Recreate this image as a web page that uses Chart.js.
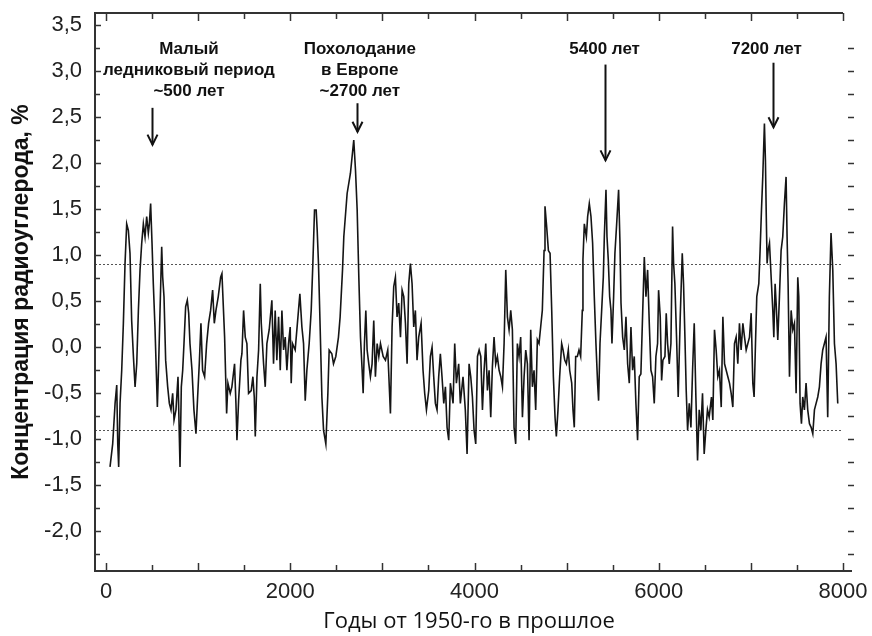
<!DOCTYPE html>
<html><head><meta charset="utf-8">
<script src="https://cdn.jsdelivr.net/npm/chart.js@4.4.0/dist/chart.umd.min.js"></script>
<style>html,body{margin:0;padding:0;background:#fff;}#wrap{width:872px;height:636px;}</style>
</head><body><div id="wrap"><canvas id="c" width="872" height="636"></canvas></div>
<script>
const years = [43,72,98,116,127,137,152,170,188,206,224,242,260,278,297,315,333,351,369,387,405,423,441,459,470,484,499,513,531,557,571,586,604,615,629,647,669,687,705,723,738,759,781,803,817,832,846,864,882,897,911,933,954,976,994,1012,1030,1048,1070,1092,1113,1135,1157,1175,1193,1218,1244,
1258,1287,1309,1323,1348,1366,1395,1410,1421,1439,1464,1475,1493,1511,1529,1547,1576,1594,1609,1620,1638,1656,1674,1685,1710,1728,1746,1771,1800,1818,1836,1854,1873,1891,1909,1927,1945,1963,1981,1999,2010,2024,2053,2089,2104,2126,2144,2162,2180,2205,2227,2245,2263,2281,2292,2306,2324,2343,2361,2386,2408,2422,2451,2469,2494,2523,2541,2567,
2581,2617,2653,2689,2708,2726,2744,2762,2780,2791,2805,2820,2834,2852,2870,2888,2906,2924,2943,2961,2979,3008,3033,3058,3087,3105,3123,3141,3159,3177,3196,3214,3232,3250,3268,3286,3304,3322,3340,3358,3376,3394,3420,3441,3459,3478,3503,3521,3539,3557,3575,3593,3611,3629,3647,3666,3684,3702,3720,3738,3767,3785,3803,3828,3846,3875,3900,3919,
3941,3959,3977,3995,4013,4032,4050,4068,4086,4104,4122,4140,4158,4176,4194,4212,4230,4248,4267,4285,4303,4321,4339,4357,4375,4393,4411,4429,4447,4465,4483,4501,4520,4538,4556,4574,4592,4610,4628,4646,4664,4682,4700,4718,4736,4755,4765,4783,4802,4820,4838,4856,4874,4888,4906,4924,4946,4961,4979,4997,5018,5033,5055,5069,5083,5098,5116,5134,5152,5170,5177,5192,5214,5228,
5246,5264,5282,5300,5318,5336,5347,5362,5380,5398,5409,5427,5438,5452,5467,5481,5492,5510,5524,5543,5564,5579,5590,5608,5626,5644,5662,5680,5698,5716,5734,5752,5770,5788,5806,5824,5843,5861,5879,5897,5915,5933,5951,5969,5987,5998,6016,6031,6045,6067,6081,6096,6114,6132,6150,6161,6175,6193,6211,6233,6255,6269,6284,6298,6313,6331,6349,6367,6385,6403,6421,6439,6457,6475,6493,6511,6529,6547,6572,
6587,6605,6623,6641,6659,6678,6696,6714,6732,6750,6768,6786,6804,6822,6840,6858,6876,6894,6913,6931,6949,6967,6985,7003,7021,7035,7050,7064,7086,7100,7115,7129,7147,7158,7166,7176,7187,7202,7220,7238,7249,7263,7274,7292,7310,7328,7346,7364,7382,7393,7404,7419,7437,7455,7473,7491,7509,7520,7534,7549,7563,7581,7599,7617,7636,7654,7672,7690,7708,7726,7744,7762,7780,7798,7816,7834,7852,7870,7889,7907,7925,7943];
const radiocarbon = [-1.30,-1.05,-0.61,-0.41,-1.05,-1.30,-0.61,-0.25,0.26,0.91,1.34,1.27,1.02,0.29,-0.10,-0.43,-0.18,0.40,0.84,1.13,1.34,1.20,1.42,1.24,1.34,1.56,1.13,0.69,0.22,-0.65,-0.18,0.40,1.09,0.76,0.55,-0.14,-0.43,-0.61,-0.68,-0.50,-0.79,-0.68,-0.32,-1.30,-0.43,-0.25,0.04,0.44,0.51,0.37,0.04,-0.25,-0.68,-0.94,-0.54,-0.18,0.26,-0.25,-0.32,0.04,0.26,0.40,0.62,0.26,0.40,0.55,0.76,
0.80,0.11,-0.72,-0.39,-0.50,-0.43,-0.18,-0.61,-1.01,-0.58,-0.14,-0.07,0.40,0.11,0.04,-0.50,-0.47,-0.32,-0.54,-0.97,-0.32,-0.03,0.69,0.26,-0.18,-0.43,0.04,0.19,0.51,-0.18,0.40,-0.14,0.33,-0.25,0.40,-0.03,0.11,-0.25,0.04,0.22,-0.39,0.04,-0.03,0.40,0.58,0.22,0.04,-0.58,-0.25,0.04,0.40,0.91,1.49,1.49,1.27,0.91,0.22,-0.54,-0.90,-1.05,-0.50,-0.03,-0.07,-0.18,-0.10,0.11,0.33,0.84,
1.20,1.67,1.89,2.25,1.92,1.49,0.76,0.11,-0.25,-0.50,0.04,0.40,-0.03,-0.18,-0.32,-0.18,0.29,-0.32,0.04,-0.10,0.04,-0.10,-0.14,-0.03,-0.72,0.22,0.66,0.76,0.33,0.48,0.11,0.62,0.55,0.26,-0.18,0.69,0.91,0.69,0.22,0.40,-0.14,0.11,0.26,-0.25,-0.50,-0.68,-0.47,-0.10,0.00,-0.32,-0.61,-0.68,-0.32,-0.07,-0.32,-0.61,-0.43,-0.87,-1.01,-0.39,-0.61,0.04,-0.39,-0.18,-0.61,-0.32,-0.68,-1.16,
-0.18,-0.32,-0.54,-0.90,-1.05,-0.10,-0.03,-0.10,-0.68,-0.25,0.04,-0.47,-0.25,-0.76,-0.21,0.11,-0.18,-0.10,-0.25,-0.32,-0.43,0.04,0.84,0.33,0.19,0.40,0.19,-0.87,-1.05,0.04,-0.10,0.11,-0.76,-0.32,-0.03,-0.18,-1.01,0.19,-0.43,-0.25,-0.68,0.08,0.04,0.22,0.40,1.05,1.53,1.31,1.05,1.02,0.40,-0.32,-0.76,-0.97,-0.68,-0.32,0.04,-0.03,-0.14,-0.18,-0.03,-0.25,-0.39,-0.68,-0.87,-0.10,-0.10,-0.03,-0.10,0.40,0.95,1.34,1.20,1.42,
1.56,1.42,1.13,0.55,0.04,-0.39,-0.58,0.04,0.40,0.76,1.20,1.71,1.20,0.95,0.55,0.40,0.04,0.55,1.02,1.34,1.71,1.13,0.48,0.11,-0.03,0.33,-0.18,-0.39,0.22,-0.25,-0.10,-0.61,-1.01,-0.32,-0.29,0.33,0.98,0.55,0.84,0.26,-0.25,-0.32,-0.61,-0.10,0.04,0.62,0.33,-0.36,-0.14,-0.10,0.37,0.04,-0.18,0.04,1.31,0.91,0.69,0.11,-0.54,0.33,1.02,0.69,0.11,-0.47,-0.90,-0.61,-0.87,-0.25,0.26,-0.54,-1.23,-0.68,-0.90,-0.50,-1.16,-0.90,-0.68,-0.76,-0.54,
-0.79,0.19,-0.03,-0.32,-0.25,-0.65,0.33,-0.18,-0.25,-0.32,-0.39,-0.50,-0.65,0.04,0.11,-0.18,0.26,-0.03,0.26,0.11,-0.03,0.04,0.11,0.37,-0.39,-0.54,0.04,0.55,0.69,1.05,1.49,1.85,2.43,2.03,1.49,0.91,1.05,1.13,0.76,0.40,0.11,0.69,0.48,0.08,0.55,1.05,1.20,1.56,1.85,1.20,0.69,-0.32,0.40,0.19,0.26,-0.50,0.76,0.55,-0.61,-0.83,-0.54,-0.68,-0.39,-0.68,-0.83,-0.87,-0.94,-0.68,-0.61,-0.54,-0.43,-0.18,-0.03,0.04,0.11,-0.76,0.55,1.24,0.84,0.04,-0.18,-0.61];

const xTickValues = [0, 2000, 4000, 6000, 8000];
const yTickValues = [-2.0, -1.5, -1.0, -0.5, 0.0, 0.5, 1.0, 1.5, 2.0, 2.5, 3.0, 3.5];
const thresholdValues = [0.9, -0.9];
const annotationLabels = [["Малый", "ледниковый период", "~500 лет"], ["Похолодание", "в Европе", "~2700 лет"], ["5400 лет"], ["7200 лет"]];
const annotationTextYears = [900, 2755, 5412, 7170];
const annotationArrowYears = [500, 2720, 5420, 7237];
const annotationArrowTop = [2.60, 2.65, 3.07, 3.09];
const annotationArrowTip = [2.20, 2.34, 2.03, 2.39];
const annotationTextValue = 3.24;

const fmt = v => v.toFixed(1).replace('.', ',');

const decor = {
  id: 'decor',
  beforeDatasetsDraw(chart) {
    const {ctx, chartArea: a, scales: {y}} = chart;
    ctx.save();
    ctx.strokeStyle = '#555';
    ctx.lineWidth = 1;
    ctx.setLineDash([2, 2]);
    thresholdValues.forEach(v => {
      const py = Math.round(y.getPixelForValue(v)) + 0.5;
      ctx.beginPath(); ctx.moveTo(a.left, py); ctx.lineTo(a.right, py); ctx.stroke();
    });
    ctx.restore();
  },
  afterDraw(chart) {
    const {ctx, chartArea: a, scales: {x, y}} = chart;
    ctx.save();
    ctx.strokeStyle = '#333';
    ctx.lineWidth = 2;
    ctx.beginPath();
    ctx.moveTo(a.left, a.bottom); ctx.lineTo(a.left, a.top); ctx.lineTo(a.right, a.top);
    ctx.stroke();
    ctx.beginPath(); ctx.moveTo(a.left - 1, a.bottom); ctx.lineTo(a.right + 9, a.bottom); ctx.stroke();
    ctx.lineWidth = 1.5;
    for (let v = 0; v <= 8000; v += 500) {
      const px = Math.round(x.getPixelForValue(v)) + 0.5;
      const len = v % 1000 === 0 ? 8 : 6;
      ctx.beginPath(); ctx.moveTo(px, a.bottom); ctx.lineTo(px, a.bottom - len); ctx.stroke();
      ctx.beginPath(); ctx.moveTo(px, a.top); ctx.lineTo(px, a.top + len); ctx.stroke();
    }
    for (let v = -2.25; v <= 3.5001; v += 0.25) {
      const py = Math.round(y.getPixelForValue(v)) + 0.5;
      const len = Math.abs(v * 2 - Math.round(v * 2)) < 1e-6 ? 6 : 5;
      ctx.beginPath(); ctx.moveTo(a.left, py); ctx.lineTo(a.left + len, py); ctx.stroke();
      if (v <= 3.3) {
        ctx.beginPath(); ctx.moveTo(a.right + 5, py); ctx.lineTo(a.right + 11, py); ctx.stroke();
      }
    }
    ctx.fillStyle = '#111';
    ctx.strokeStyle = '#111';
    ctx.font = 'bold 17px "Liberation Sans", Arial, sans-serif';
    ctx.textAlign = 'center';
    ctx.textBaseline = 'middle';
    annotationLabels.forEach((lines, i) => {
      const tx = x.getPixelForValue(annotationTextYears[i]);
      const ty = y.getPixelForValue(annotationTextValue);
      lines.forEach((t, j) => ctx.fillText(t, tx, ty + j * 21));
      const ax = Math.round(x.getPixelForValue(annotationArrowYears[i])) + 0.5;
      const y0 = y.getPixelForValue(annotationArrowTop[i]);
      const y1 = y.getPixelForValue(annotationArrowTip[i]);
      ctx.lineWidth = 2;
      ctx.beginPath(); ctx.moveTo(ax, y0); ctx.lineTo(ax, y1); ctx.stroke();
      ctx.beginPath(); ctx.moveTo(ax - 5, y1 - 10); ctx.lineTo(ax, y1); ctx.lineTo(ax + 5, y1 - 10); ctx.stroke();
    });
    ctx.restore();
  }
};

new Chart(document.getElementById('c'), {
  type: 'line',
  data: {
    datasets: [{
      data: years.map((yr, i) => ({x: yr, y: radiocarbon[i]})),
      borderColor: '#151515',
      borderWidth: 1.6,
      pointRadius: 0,
      tension: 0,
      fill: false
    }]
  },
  options: {
    responsive: false,
    animation: false,
    devicePixelRatio: 1,
    layout: {padding: {left: 0, top: 13, right: 29, bottom: 0}},
    plugins: {legend: {display: false}, tooltip: {enabled: false}},
    scales: {
      x: {
        type: 'linear', min: -120, max: 8000,
        afterBuildTicks: s => { s.ticks = xTickValues.map(v => ({value: v})); },
        afterFit: s => { s.height = 65; s.paddingLeft = 0; s.paddingRight = 0; },
        grid: {display: false, drawTicks: false},
        border: {display: false},
        ticks: {padding: 8, color: '#222', font: {family: '"Liberation Sans", Arial, sans-serif', size: 22}, callback: v => String(v)},
        title: {display: true, text: 'Годы от 1950-го в прошлое', color: '#111', font: {family: '"Open Sans", sans-serif', size: 22}, padding: {top: 0, bottom: 1}}
      },
      y: {
        type: 'linear', min: -2.43, max: 3.63,
        afterBuildTicks: s => { s.ticks = yTickValues.map(v => ({value: v})); },
        afterFit: s => { s.width = 95; s.paddingTop = 0; s.paddingBottom = 0; },
        grid: {display: false, drawTicks: false},
        border: {display: false},
        ticks: {padding: 13, color: '#222', font: {family: '"Liberation Sans", Arial, sans-serif', size: 22}, callback: v => fmt(v)},
        title: {display: true, text: 'Концентрация радиоуглерода, %', color: '#111', font: {family: '"Liberation Sans", Arial, sans-serif', size: 23, weight: 'bold'}, padding: {top: 8, bottom: 0}}
      }
    }
  },
  plugins: [decor]
});
</script></body></html>
